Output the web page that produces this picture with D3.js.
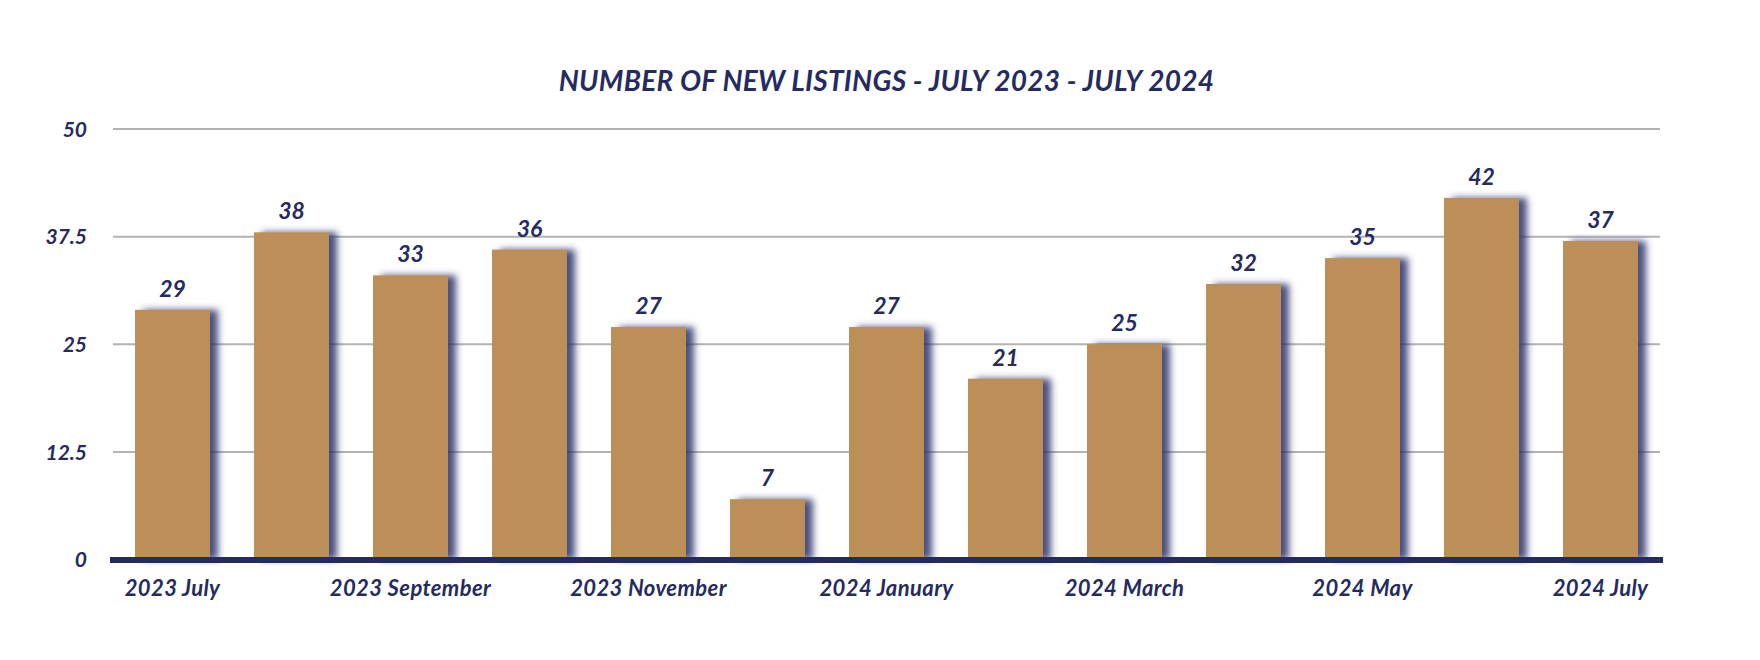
<!DOCTYPE html>
<html>
<head>
<meta charset="utf-8">
<script src="https://cdn.jsdelivr.net/npm/d3@7"></script>
<style>
  html, body { margin: 0; padding: 0; background: #ffffff; }
  svg { display: block; }
  text { font-family: Lato, "Open Sans", sans-serif; font-weight: 700; font-style: italic; fill: #252b5f; }
</style>
</head>
<body>
<div id="chart"></div>
<script>
const title = "NUMBER OF NEW LISTINGS - JULY 2023 - JULY 2024";
const categories = ["2023 July", "2023 August", "2023 September", "2023 October", "2023 November", "2023 December",
  "2024 January", "2024 February", "2024 March", "2024 April", "2024 May", "2024 June", "2024 July"];
const values = [29, 38, 33, 36, 27, 7, 27, 21, 25, 32, 35, 42, 37];
const yTicks = [0, 12.5, 25, 37.5, 50];
const xTickLabels = ["2023 July", "2023 September", "2023 November", "2024 January", "2024 March", "2024 May", "2024 July"];

const W = 1760, H = 660;
const svg = d3.select("#chart").append("svg").attr("width", W).attr("height", H);

const defs = svg.append("defs");
const f = defs.append("filter").attr("id", "shadow")
  .attr("x", "-30%").attr("y", "-30%").attr("width", "160%").attr("height", "160%");
f.append("feGaussianBlur").attr("in", "SourceAlpha").attr("stdDeviation", 3.8).attr("result", "blur");
f.append("feOffset").attr("in", "blur").attr("dx", 8).attr("dy", 0).attr("result", "off");
f.append("feFlood").attr("flood-color", "#2a3168").attr("flood-opacity", 0.85).attr("result", "col");
f.append("feComposite").attr("in", "col").attr("in2", "off").attr("operator", "in").attr("result", "sh");
const m = f.append("feMerge");
m.append("feMergeNode").attr("in", "sh");
m.append("feMergeNode").attr("in", "SourceGraphic");

const x = d3.scaleBand().domain(categories).range([113, 1660]).paddingInner(0.37).paddingOuter(0.185);
const y = d3.scaleLinear().domain([0, 50]).range([559.5, 129]);

// title
svg.append("text").attr("x", (113 + 1660) / 2).attr("y", 91)
  .attr("text-anchor", "middle").style("font-size", "28px").style("letter-spacing", "0.3px").text(title);

// gridlines
svg.append("g").selectAll("line").data(yTicks.filter(d => d > 0)).join("line")
  .attr("x1", 113).attr("x2", 1660)
  .attr("y1", d => y(d)).attr("y2", d => y(d))
  .attr("stroke", "#b3b3b3").attr("stroke-width", 2);

// y axis labels
const yAxis = d3.axisLeft(y).tickValues(yTicks).tickSize(0).tickPadding(0).tickFormat(d => d3.format("~g")(d));
const yg = svg.append("g").attr("transform", "translate(87,0)").call(yAxis);
yg.select(".domain").remove();
yg.selectAll("text").style("font-size", "21px").attr("fill", "#252b5f").attr("dy", "0.35em");

// bars
svg.append("g").selectAll("rect").data(values).join("rect")
  .attr("x", (d, i) => x(categories[i]))
  .attr("width", x.bandwidth())
  .attr("y", d => y(d))
  .attr("height", d => y(0) - y(d))
  .attr("fill", "#bc8e59")
  .attr("filter", "url(#shadow)");

// baseline
svg.append("line").attr("x1", 110).attr("x2", 1663).attr("y1", y(0) + 0.5).attr("y2", y(0) + 0.5)
  .attr("stroke", "#252b5f").attr("stroke-width", 6);

// value labels
svg.append("g").selectAll("text").data(values).join("text")
  .attr("x", (d, i) => x(categories[i]) + x.bandwidth() / 2)
  .attr("y", d => y(d) - 13)
  .attr("text-anchor", "middle").style("font-size", "23px")
  .text(d => d);

// x axis labels
const xAxis = d3.axisBottom(x).tickValues(xTickLabels).tickSize(0).tickPadding(0);
const xg = svg.append("g").attr("transform", "translate(0,579)").call(xAxis);
xg.select(".domain").remove();
xg.selectAll("text").style("font-size", "22px").style("letter-spacing", "0.4px").attr("fill", "#252b5f").attr("dy", "0.75em");
</script>
</body>
</html>
